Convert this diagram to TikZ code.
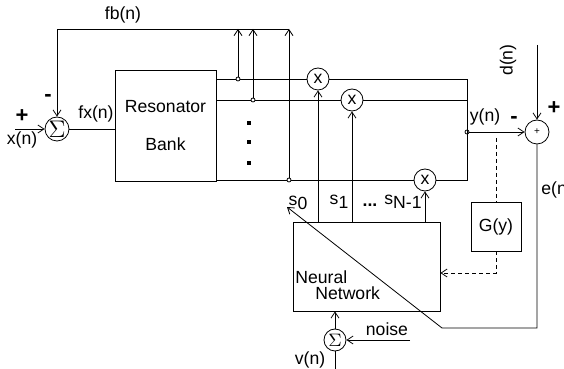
\documentclass[tikz,border=0pt]{standalone}
\usepackage{fontspec}
\setmainfont{Liberation Sans}
\usepackage{tikz}
\usetikzlibrary{arrows.meta,positioning,calc}
\tikzset{>={Straight Barb[length=3pt,width=4pt]}}
\newcommand{\sidx}[1]{s\raisebox{-0.45ex}{#1}}

\begin{document}
\begin{tikzpicture}[x=0.5pt, y=-0.5pt, font=\fontsize{8.8}{10}\selectfont]
    \tikzstyle{sumnode}=[draw, circle, inner sep=0pt, minimum size=12pt]
    \tikzstyle{mulnode}=[draw, circle, inner sep=0pt, minimum size=11pt]
    \tikzstyle{tap}=[draw, circle, fill=white, inner sep=0pt, minimum size=2pt]
    \tikzstyle{blk}=[draw, rectangle, inner sep=0pt]
    \tikzstyle{lab}=[inner sep=0pt]
    \tikzstyle{sign}=[font=\fontsize{11}{12}\selectfont\bfseries]
    \useasboundingbox (0,0) rectangle (564,369);
    \clip (0,0) rectangle (564,369);
    % blocks
    \node[sumnode] (sx) at (57,129) {\large$\Sigma$};
    \node[blk, minimum width=50.5pt, minimum height=55.5pt, align=center] (res) at (165.5,125.5) {Resonator\\[9pt]Bank};
    \node[mulnode] (m0) at (318,79) {x};
    \node[mulnode] (m1) at (352,100) {x};
    \node[mulnode] (m2) at (425,180) {x};
    \node[blk, minimum width=73.5pt, minimum height=44.5pt] (nn) at (366.5,266.5) {};
    \node[lab, anchor=west] (nnA) at (295,277) {Neural};
    \node[lab, anchor=west] (nnB) at (315,293) {Network};
    \node[blk, minimum width=25pt, minimum height=24.5pt] (g) at (496,226.5) {G(y)};
    \node[sumnode] (pl) at (537,132) {\tiny +};
    \node[mulnode] (sv) at (335,340) {$\Sigma$};
    % taps
    \node[tap] (t0) at (238,79) {};
    \node[tap] (t1) at (253,100) {};
    \node[tap] (t2) at (289,180) {};
    \node[tap] (yn) at (467,132) {};
    \coordinate (r0) at (467,79);
    \coordinate (r1) at (467,100);
    \coordinate (r2) at (467,180);
    \foreach \y in {123,142,163}
      \node[fill, inner sep=0pt, minimum size=2pt] (dot\y) at (249,\y) {};
    % resonator outputs
    \draw (res.east |- t0) -- (t0) -- (m0);
    \draw (res.east |- t1) -- (t1) -- (m1);
    \draw (res.east |- t2) -- (t2) -- (m2);
    \draw (m0) -- (r0) -- (r2) -- (m2);
    \draw (m1) -- (r1);
    % feedback
    \coordinate (fbR) at (289,29);
    \coordinate (fbL) at (57,29);
    \draw[->] (t0) -- (t0 |- fbR);
    \draw[->] (t1) -- (t1 |- fbR);
    \draw[->] (t2) -- (fbR);
    \draw[->] (fbR) -- (fbL) -- (sx);
    \node (fblab) at (123,15) {fb(n)};
    \node[sign] (minus1) at (48,98) {-};
    % input
    \coordinate (xin) at (15,129);
    \draw[->] (xin) -- (sx);
    \node[sign] (plus1) at (22,116) {+};
    \node (xlab) at (22,140) {x(n)};
    \draw (sx) -- (sx -| res.west) node[midway, above, xshift=2pt] {fx(n)};
    % network outputs
    \draw[->] (nn.north -| m0) -- (m0);
    \draw[->] (nn.north -| m1) -- (m1);
    \draw[->] (nn.north -| m2) -- (m2);
    \node (s0) at (298,203) {\sidx{0}};
    \node (s1) at (339,202) {\sidx{1}};
    \node (sdots) at (370,205) {\textbf{...}};
    \node (sN) at (403,202) {\sidx{N-1}};
    % error
    \draw[->] (yn) -- (pl);
    \node (ylab) at (485,117) {y(n)};
    \node[sign] (minus2) at (514,120) {-};
    \node[sign] (plus2) at (554,108) {+};
    \coordinate (dn) at (537,45);
    \draw[->] (dn) -- (pl);
    \node[rotate=90] (dlab) at (508,60) {d(n)};
    \coordinate (e1) at (537,328);
    \coordinate (e2) at (442,328);
    \coordinate (e3) at (287,207);
    \draw[->] (pl) -- (e1) -- (e2) -- (e3);
    \node[lab, anchor=west] (elab) at (541,190) {e(n)};
    % G(y)
    \coordinate (gy) at (496,138);
    \coordinate (gb) at (496,273);
    \draw[dash pattern=on 2pt off 1.5pt] (gy) -- (g);
    \draw[dash pattern=on 2pt off 1.5pt, ->] (g) -- (gb) -- (gb -| nn.east);
    % perturbation
    \draw[->] (sv) -- (sv |- nn.south);
    \coordinate (nz) at (410,340);
    \draw[->] (nz) -- (sv);
    \node (nzlab) at (387,329) {noise};
    \coordinate (vb) at (335,372);
    \draw (vb) -- (sv);
    \node (vlab) at (310,360) {v(n)};
  \end{tikzpicture}
\end{document}
